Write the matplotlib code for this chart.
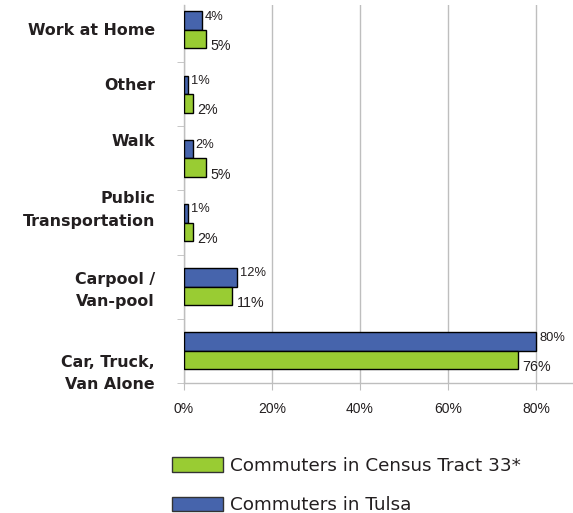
import matplotlib
matplotlib.use("Agg")
import matplotlib.pyplot as plt
from matplotlib.patches import Patch
from matplotlib.ticker import FixedLocator
import numpy as np

# Commute mode shares (percent), listed bottom to top
categories = ["Car, Truck,\nVan Alone", "Carpool /\nVan-pool", "Public\nTransportation",
              "Walk", "Other", "Work at Home"]
tulsa = [80, 12, 1, 2, 1, 4]
tract = [76, 11, 2, 5, 2, 5]
x_ticks = [0, 20, 40, 60, 80]
x_tick_labels = ["0%", "20%", "40%", "60%", "80%"]
series_names = ["Commuters in Census Tract 33*", "Commuters in Tulsa"]

BLUE = "#4664AC"
GREEN = "#99CC33"
TEXT = "#231F20"
GRID = "#BEBEBE"

W, H = 573, 513
fig = plt.figure(figsize=(W / 100, H / 100), dpi=100)

# plot area in pixel terms
left_px, right_px, top_px, bottom_px = 184, 573, 5, 383
ax = fig.add_axes([left_px / W, 1 - bottom_px / H,
                   (right_px - left_px) / W, (bottom_px - top_px) / H])

y = np.arange(len(categories))
h = 0.288
ax.barh(y + h / 2, tulsa, height=h, color=BLUE, edgecolor="black", linewidth=1.0, zorder=3)
ax.barh(y - h / 2, tract, height=h, color=GREEN, edgecolor="black", linewidth=1.0, zorder=3)

# value labels
for yi, v in zip(y, tulsa):
    ax.annotate(f"{v}%", xy=(v, yi + h / 2), xytext=(3, 4), textcoords="offset pixels",
                ha="left", va="center", fontsize=9.3, color=TEXT,
                family="Liberation Sans", zorder=4)
for yi, v in zip(y, tract):
    ax.annotate(f"{v}%", xy=(v, yi - h / 2), xytext=(4, -7), textcoords="offset pixels",
                ha="left", va="center", fontsize=10.3, color=TEXT,
                family="Liberation Sans", zorder=4)

# axes scales
px_per_unit = 64.2
ax.set_ylim(-0.5, -0.5 + (bottom_px - top_px) / px_per_unit)
ax.set_xlim(0, (right_px - left_px) / 4.4)

ax.set_xticks(x_ticks)
ax.set_xticklabels(x_tick_labels, family="Liberation Sans", fontsize=10, color=TEXT)
ax.tick_params(axis="x", length=5, color=GRID, pad=9)
ax.grid(axis="x", color=GRID, linewidth=1.0, zorder=0)

ax.set_yticks([])
ax.yaxis.set_minor_locator(FixedLocator(np.arange(-0.5, len(categories) - 0.5, 1.0)))
ax.tick_params(axis="y", which="minor", length=5, color=GRID)

for side in ("top", "right"):
    ax.spines[side].set_visible(False)
for side in ("left", "bottom"):
    ax.spines[side].set_color(GRID)
    ax.spines[side].set_linewidth(1.0)

# category labels, right-aligned to the left of the plot
label_y_px = [373.5, 290.5, 210, 142, 85, 31]
for name, ypx in zip(categories, label_y_px):
    fig.text(155 / W, 1 - ypx / H, name, ha="right", va="center", ma="right",
             fontsize=11.4, fontweight="bold", family="DejaVu Sans", color=TEXT,
             linespacing=1.6)

handles = [Patch(facecolor=GREEN, edgecolor="#333333", linewidth=1.0),
           Patch(facecolor=BLUE, edgecolor="#333333", linewidth=1.0)]
fig.legend(handles, series_names, loc="upper left",
           bbox_to_anchor=(172 / W, 1 - 457 / H), frameon=False,
           prop={"family": "DejaVu Sans", "size": 13.2},
           handlelength=2.79, handleheight=0.85, handletextpad=0.38,
           labelspacing=1.17, borderpad=0, borderaxespad=0, labelcolor=TEXT)

fig.savefig("out.png", dpi=100)
